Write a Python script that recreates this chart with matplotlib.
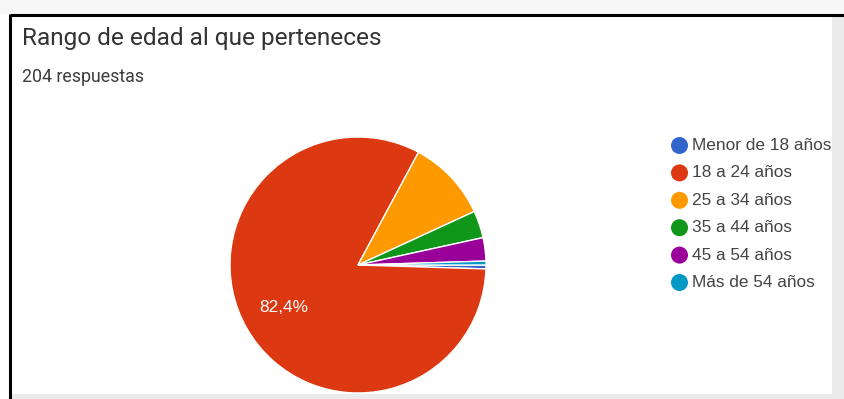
import matplotlib
matplotlib.use("Agg")
import matplotlib.pyplot as plt
from matplotlib.patches import Rectangle

# ---- data ----
title = "Rango de edad al que perteneces"
subtitle = "204 respuestas"
categories = ["Menor de 18 años", "18 a 24 años", "25 a 34 años",
              "35 a 44 años", "45 a 54 años", "Más de 54 años"]
counts = [1, 168, 21, 7, 6, 1]
colors = ["#3366cc", "#dc3912", "#ff9900", "#109618", "#990099", "#0099c6"]

W, H = 845, 399
fig = plt.figure(figsize=(W / 100, H / 100), dpi=100)
fig.patch.set_facecolor("white")

# background / decoration axes in pixel coordinates
bg = fig.add_axes([0, 0, 1, 1])
bg.set_xlim(0, W)
bg.set_ylim(H, 0)
bg.axis("off")

gray = "#ebebeb"
bg.add_patch(Rectangle((832, 16), W - 832, H - 16, color=gray, lw=0))
bg.add_patch(Rectangle((11, 394), 832 - 11, H - 394, color=gray, lw=0))
bg.add_patch(Rectangle((0, 0), W, 14, color="#f6f6f6", lw=0))
bg.plot([10, W], [15, 15], color="black", lw=2.2, solid_capstyle="butt")
bg.plot([10, 10], [14, H], color="black", lw=2.2, solid_capstyle="butt")

bg.text(22, 45, title, fontsize=17.6, family="Roboto", color="#333333",
        ha="left", va="baseline")
bg.text(22, 82.5, subtitle, fontsize=12.8, family="Roboto", color="#3c3c3c",
        ha="left", va="baseline")

# legend
y0, dy = 145.5, 27.4
for i, (lab, col) in enumerate(zip(categories, colors)):
    y = y0 + i * dy
    bg.scatter([679.5], [y], s=150, color=col, edgecolors="none")
    bg.text(692, y, lab, fontsize=12.4, family="Liberation Sans",
            color="#444444", ha="left", va="center")

# pie axes: center (358,265), radius 128 px
cx, cy, r = 358, 265, 128
ax = fig.add_axes([(cx - r) / W, (H - cy - r) / H, 2 * r / W, 2 * r / H])


def fmt(p):
    return (f"{p:.1f}%".replace(".", ",")) if p > 50 else ""


wedges, texts, autotexts = ax.pie(
    counts, colors=colors, startangle=0, counterclock=False,
    autopct=fmt, pctdistance=0.67,
    wedgeprops=dict(edgecolor="white", linewidth=1.0),
    textprops=dict(color="white", fontsize=12.4, family="Liberation Sans"),
)
ax.set_xlim(-1, 1)
ax.set_ylim(-1, 1)
ax.set_aspect("equal")
ax.axis("off")

fig.savefig("out.png", dpi=100, facecolor="white")
